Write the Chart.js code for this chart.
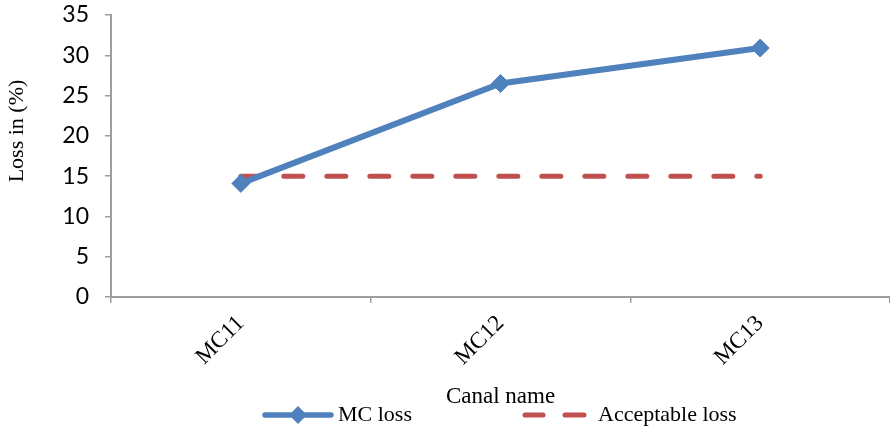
<!DOCTYPE html>
<html>
<head>
<meta charset="utf-8">
<script src="https://cdn.jsdelivr.net/npm/chart.js@4/dist/chart.umd.min.js"></script>
<style>
  html, body { margin: 0; padding: 0; background: #ffffff; }
  #wrap { width: 890px; height: 431px; }
</style>
</head>
<body>
<div id="wrap"><canvas id="c" width="890" height="431"></canvas></div>
<script>
// Canal losses against the acceptable limit
const canals = ['MC11', 'MC12', 'MC13'];
const mcLoss = [14.1, 26.5, 30.9];
const acceptableLoss = [15, 15, 15];
const yTicks = [0, 5, 10, 15, 20, 25, 30, 35];

const BLUE = '#4F81BD';
const RED = '#C0504D';
const AXIS = '#9d9d9d';
const SERIF = '"Liberation Serif", "Times New Roman", serif';
const SANS = 'Lato, "Open Sans", sans-serif';

// Legend (line + marker samples) and rotated y title drawn on the canvas
const decorations = {
  id: 'decorations',
  afterDraw(chart) {
    const ctx = chart.ctx;
    const y = 415;
    ctx.save();
    // MC loss sample
    ctx.strokeStyle = BLUE;
    ctx.lineWidth = 5.5;
    ctx.lineCap = 'round';
    ctx.beginPath();
    ctx.moveTo(265, y);
    ctx.lineTo(331, y);
    ctx.stroke();
    ctx.fillStyle = BLUE;
    ctx.beginPath();
    ctx.moveTo(298 - 9, y);
    ctx.lineTo(298, y - 9);
    ctx.lineTo(298 + 9, y);
    ctx.lineTo(298, y + 9);
    ctx.closePath();
    ctx.fill();
    // Acceptable loss sample
    ctx.strokeStyle = RED;
    ctx.lineWidth = 5;
    ctx.beginPath();
    ctx.moveTo(525, y); ctx.lineTo(543, y);
    ctx.moveTo(565, y); ctx.lineTo(584, y);
    ctx.stroke();
    // Labels
    ctx.fillStyle = '#000';
    ctx.font = '22px ' + SERIF;
    ctx.textBaseline = 'middle';
    ctx.textAlign = 'left';
    ctx.fillText('MC loss', 338, y);
    ctx.fillText('Acceptable loss', 598, y);
    // Y axis title
    ctx.translate(17, 131);
    ctx.rotate(-Math.PI / 2);
    ctx.textAlign = 'center';
    ctx.fillText('Loss in (%)', 0, 0);
    ctx.restore();
  }
};

new Chart(document.getElementById('c'), {
  type: 'line',
  data: {
    labels: canals,
    datasets: [
      {
        label: 'MC loss',
        data: mcLoss,
        borderColor: BLUE,
        backgroundColor: BLUE,
        borderWidth: 6,
        pointStyle: 'rectRot',
        pointRadius: 9,
        pointBorderWidth: 1,
        pointBackgroundColor: BLUE,
        pointBorderColor: BLUE,
        tension: 0,
        clip: false,
        order: 1
      },
      {
        label: 'Acceptable loss',
        data: acceptableLoss,
        borderColor: RED,
        backgroundColor: RED,
        borderWidth: 5,
        borderDash: [19, 24],
        borderCapStyle: 'round',
        pointRadius: 0,
        tension: 0,
        order: 2
      }
    ]
  },
  options: {
    responsive: false,
    devicePixelRatio: 1,
    animation: false,
    layout: { autoPadding: false, padding: { top: 15, right: 0, bottom: 20, left: 0 } },
    plugins: {
      legend: { display: false },
      tooltip: { enabled: false }
    },
    scales: {
      x: {
        offset: true,
        grid: {
          offset: true,
          drawOnChartArea: false,
          drawTicks: true,
          tickLength: 6,
          color: AXIS,
          lineWidth: 1.5
        },
        border: { color: AXIS, width: 2 },
        ticks: {
          color: '#000',
          font: { family: SERIF, size: 23 },
          maxRotation: 45,
          minRotation: 45,
          padding: 7
        },
        title: {
          display: true,
          text: 'Canal name',
          color: '#000',
          font: { family: SERIF, size: 23 },
          padding: { top: 0, bottom: 0 }
        },
        afterFit(scale) {
          scale.height = 114;
          scale.paddingLeft = 0;
          scale.paddingRight = 0;
        }
      },
      y: {
        min: 0,
        max: 35,
        afterBuildTicks(scale) { scale.ticks = yTicks.map(v => ({ value: v })); },
        grid: {
          drawOnChartArea: false,
          drawTicks: true,
          tickLength: 6,
          color: AXIS,
          lineWidth: 1.5
        },
        border: { color: AXIS, width: 2 },
        ticks: {
          color: '#000',
          font: { family: SANS, size: 23 },
          padding: 16
        },
        afterFit(scale) {
          scale.width = 111;
          scale.paddingTop = 0;
          scale.paddingBottom = 0;
        }
      }
    }
  },
  plugins: [decorations]
});
</script>
</body>
</html>
